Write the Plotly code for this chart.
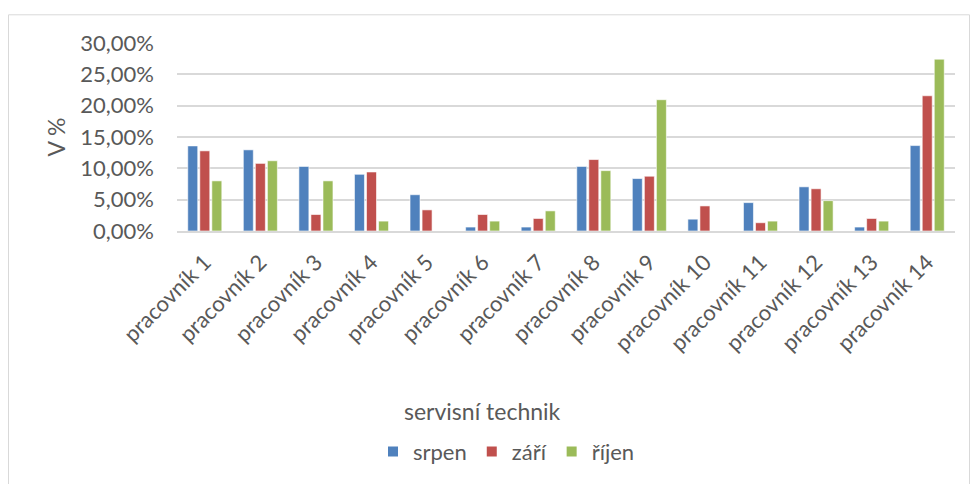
import plotly.graph_objects as go

categories = [f"pracovník {i}" for i in range(1, 15)]
srpen = [0.1358, 0.1295, 0.1030, 0.0905, 0.0579, 0.0063, 0.0063, 0.1030, 0.0837, 0.0189, 0.0453, 0.0705, 0.0063, 0.1363]
zari = [0.1279, 0.1079, 0.0263, 0.0942, 0.0337, 0.0263, 0.0200, 0.1140, 0.0874, 0.0400, 0.0132, 0.0674, 0.0200, 0.2158]
rijen = [0.0800, 0.1121, 0.0800, 0.0158, 0.0, 0.0158, 0.0321, 0.0963, 0.2095, 0.0, 0.0158, 0.0484, 0.0158, 0.2742]

series_names = ["srpen", "září", "říjen"]
colors = ["#4F81BD", "#C0504D", "#9BBB59"]
TXT = "#595959"
FONT = "Lato"

fig = go.Figure()
for name, vals, col in zip(series_names, [srpen, zari, rijen], colors):
    fig.add_trace(go.Bar(x=categories, y=vals, name=name,
                         marker=dict(color=col, line=dict(color="white", width=0.6))))

L, R, T, B = 177, 15, 43, 251
W, H = 970, 484
pw = W - L - R
ph = H - T - B

def px(x):
    return (x - L) / pw

def py(y):
    return (H - B - y) / ph

fig.update_layout(
    width=W, height=H,
    margin=dict(l=L, r=R, t=T, b=B, pad=0),
    paper_bgcolor="white", plot_bgcolor="white",
    separators=", ",
    barmode="group", bargap=0.35, bargroupgap=0.17,
    font=dict(family=FONT, color=TXT, size=21),
    showlegend=True,
    legend=dict(orientation="h", x=px(373), xanchor="left", y=py(456), yanchor="middle",
                font=dict(size=22, color=TXT, family=FONT), traceorder="normal",
                itemwidth=30, itemsizing="constant"),
    xaxis=dict(tickangle=-45, showgrid=False, showline=True, linecolor="#d9d9d9", linewidth=1.5,
               ticks="", ticklabelstandoff=8, tickfont=dict(size=22, color=TXT, family=FONT)),
    yaxis=dict(range=[0, 0.30], dtick=0.05, tickformat=".2%", showgrid=True,
               gridcolor="#d9d9d9", gridwidth=1.5, zeroline=False, showline=False,
               ticks="", ticklabelstandoff=22, tickfont=dict(size=22, color=TXT, family=FONT),
               title=dict(text="V %", standoff=8, font=dict(size=23, color=TXT, family=FONT))),
    shapes=[dict(type="rect", xref="paper", yref="paper",
                 x0=px(8.5), x1=px(969.5), y0=py(490), y1=py(14.5),
                 line=dict(color="#d9d9d9", width=1), fillcolor="rgba(0,0,0,0)", layer="below")],
    annotations=[dict(text="servisní technik", xref="paper", yref="paper",
                      x=px(482), y=py(415), xanchor="center", yanchor="middle",
                      showarrow=False, font=dict(size=23, color=TXT, family=FONT))],
)

fig.write_html("out.html")
